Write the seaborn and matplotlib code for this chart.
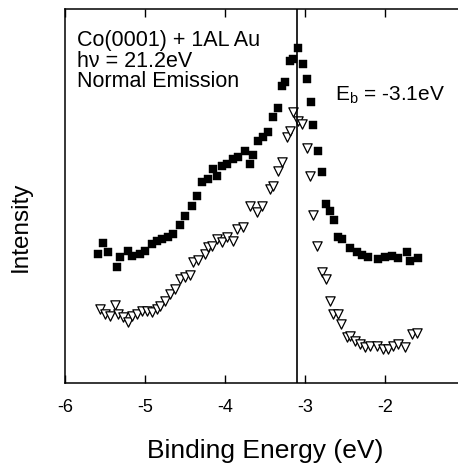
import matplotlib
matplotlib.use("Agg")
import matplotlib.pyplot as plt
import seaborn as sns

# Au-covered Co(0001), filled squares
sq_energy = [-5.59, -5.53, -5.46, -5.35, -5.31, -5.21, -5.16, -5.06, -5.00, -4.91,
             -4.85, -4.79, -4.71, -4.65, -4.56, -4.50, -4.41, -4.35, -4.29, -4.21,
             -4.15, -4.10, -4.04, -3.98, -3.90, -3.84, -3.75, -3.69, -3.65, -3.59,
             -3.53, -3.46, -3.40, -3.34, -3.29, -3.25, -3.19, -3.15, -3.09, -3.03,
             -2.98, -2.93, -2.90, -2.84, -2.79, -2.74, -2.69, -2.64, -2.59, -2.54,
             -2.44, -2.35, -2.29, -2.21, -2.09, -2.00, -1.91, -1.84, -1.73, -1.69,
             -1.59]
sq_intensity = [12.9, 14.0, 13.1, 11.6, 12.6, 13.2, 12.7, 12.9, 13.2, 13.9,
                14.2, 14.4, 14.6, 14.9, 15.8, 16.7, 17.7, 18.7, 20.1, 20.4,
                21.4, 20.7, 21.7, 21.9, 22.4, 22.6, 23.2, 21.9, 22.8, 24.2,
                24.6, 25.1, 26.6, 27.5, 29.7, 30.1, 32.2, 32.4, 33.5, 31.9,
                30.4, 28.1, 25.8, 23.2, 21.1, 17.9, 17.2, 16.3, 14.6, 14.4,
                13.5, 13.1, 12.8, 12.6, 12.4, 12.6, 12.7, 12.5, 13.1, 12.2,
                12.5]

# open triangles
tri_energy = [-5.56, -5.50, -5.44, -5.38, -5.34, -5.28, -5.21, -5.16, -5.10, -5.04,
              -4.98, -4.91, -4.85, -4.81, -4.75, -4.69, -4.63, -4.56, -4.50, -4.44,
              -4.40, -4.34, -4.25, -4.21, -4.16, -4.10, -4.04, -3.98, -3.90, -3.85,
              -3.78, -3.69, -3.60, -3.54, -3.44, -3.40, -3.34, -3.29, -3.23, -3.19,
              -3.15, -3.09, -3.04, -2.98, -2.94, -2.90, -2.85, -2.79, -2.74, -2.69,
              -2.65, -2.59, -2.55, -2.48, -2.44, -2.38, -2.31, -2.25, -2.19, -2.10,
              -2.03, -1.96, -1.90, -1.84, -1.75, -1.66, -1.60]
tri_intensity = [7.4, 6.9, 6.7, 7.8, 6.9, 6.6, 6.1, 6.7, 6.9, 7.2,
                 7.2, 7.1, 7.4, 7.7, 8.2, 8.9, 9.4, 10.4, 10.6, 10.8,
                 12.1, 12.3, 12.9, 13.6, 13.7, 14.4, 14.1, 14.6, 14.2, 15.4,
                 15.6, 17.7, 17.1, 17.7, 19.4, 19.7, 21.2, 22.1, 24.6, 25.2,
                 27.1, 26.2, 25.9, 23.5, 20.7, 16.8, 13.7, 11.1, 10.4, 8.2,
                 6.9, 6.9, 5.9, 4.6, 4.7, 4.2, 3.9, 3.6, 3.7, 3.7,
                 3.4, 3.4, 3.7, 3.9, 3.6, 4.9, 5.0]

x_ticks = [-6, -5, -4, -3, -2, -1]
e_b = -3.1

sns.set_style("ticks")
plt.rcParams["font.family"] = ["Liberation Sans", "DejaVu Sans"]
plt.rcParams["mathtext.default"] = "regular"
plt.rcParams["text.color"] = "black"
plt.rcParams["axes.labelcolor"] = "black"

fig = plt.figure(figsize=(4.58, 4.64), dpi=100)
# right spine sits past the figure edge, like the cropped original
ax = fig.add_axes([65 / 458, 80 / 464, 400 / 458, 374 / 464])

sns.scatterplot(x=sq_energy, y=sq_intensity, marker="s", s=30, color="black",
                edgecolor="black", linewidth=0.3, ax=ax)
sns.scatterplot(x=tri_energy, y=tri_intensity, marker="v", s=45, facecolor="white",
                edgecolor="black", linewidth=0.9, ax=ax)
ax.axvline(e_b, color="black", lw=1.2)

ax.set_xlim(-6, -1)
ax.set_ylim(0, 37.4)
ax.set_xticks(x_ticks)
ax.set_xticklabels([str(t) for t in x_ticks])
ax.set_yticks([])
ax.tick_params(axis="x", direction="in", top=True, length=6, width=1,
               labelsize=13, pad=11, colors="black")
for sp in ax.spines.values():
    sp.set_linewidth(1.1)
    sp.set_color("black")

ax.set_xlabel("Binding Energy (eV)", fontsize=19)
ax.xaxis.set_label_coords(0.5, -0.147)
ax.set_ylabel("Intensity", fontsize=17.5, va="center")
ax.yaxis.set_label_coords(-0.11, 0.42)

ax.text(77, 464 - 30, "Co(0001) + 1AL Au\nh\u03bd = 21.2eV\nNormal Emission",
        transform=None, fontsize=15.5, va="top", ha="left", linespacing=0.98)
ax.text(335, 464 - 95, "E$_b$ = -3.1eV", transform=None, fontsize=15,
        va="center", ha="left")

plt.savefig("out.png", dpi=100)
plt.close()
